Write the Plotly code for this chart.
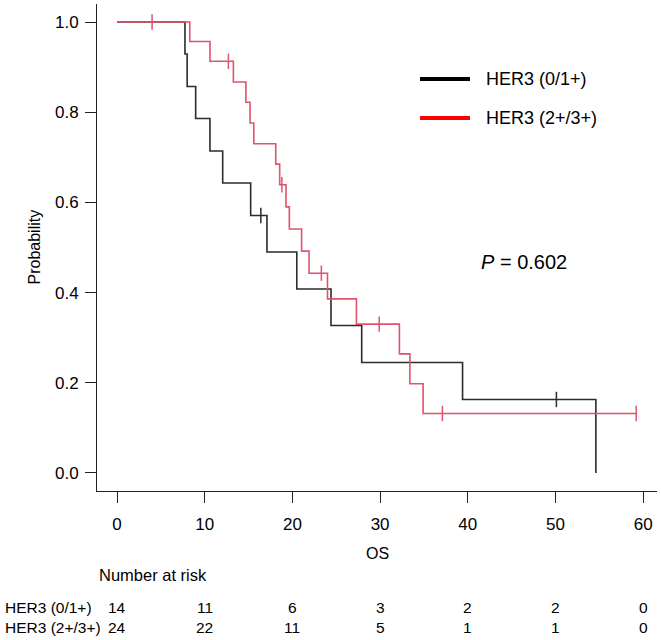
import plotly.graph_objects as go

# ---- data ----
group_names = ["HER3 (0/1+)", "HER3 (2+/3+)"]

black_times = [0, 7.75, 8.0, 8.97, 10.6, 12.05, 15.24, 17.1, 20.5, 24.4, 27.9, 39.4, 54.6]
black_surv = [1.0, 0.929, 0.857, 0.786, 0.714, 0.643, 0.571, 0.490, 0.408, 0.327, 0.245, 0.163, 0.0]
black_censor = [16.4, 50.1]

red_times = [0, 8.3, 10.6, 13.27, 14.7, 15.17, 15.6, 18.1, 18.55, 19.27, 19.65, 21.05, 21.9,
             24.0, 27.3, 32.2, 33.4, 34.9]
red_surv = [1.0, 0.957, 0.913, 0.867, 0.822, 0.776, 0.730, 0.685, 0.639, 0.590, 0.541, 0.492,
            0.443, 0.386, 0.330, 0.264, 0.198, 0.132]
red_censor = [4.0, 12.7, 18.8, 23.3, 29.9, 37.1, 59.2]

risk_times = [0, 10, 20, 30, 40, 50, 60]
risk_black = [14, 11, 6, 3, 2, 2, 0]
risk_red = [24, 22, 11, 5, 1, 1, 0]

x_ticks = [0, 10, 20, 30, 40, 50, 60]
y_ticks = [0.0, 0.2, 0.4, 0.6, 0.8, 1.0]
p_text = "<i>P</i> = 0.602"

# ---- styles ----
BLACK = "#2b2b2b"
RED = "#DF536B"
FONT = "Liberation Sans, Arial, Helvetica, sans-serif"


def surv_at(times, surv, t):
    s = surv[0]
    for ti, si in zip(times, surv):
        if ti <= t:
            s = si
    return s


def extend(times, surv, censor):
    t = list(times)
    s = list(surv)
    if censor and max(censor) > t[-1]:
        t.append(max(censor))
        s.append(s[-1])
    return t, s


fig = go.Figure()

for times, surv, censor, col in [
    (black_times, black_surv, black_censor, BLACK),
    (red_times, red_surv, red_censor, RED),
]:
    t, s = extend(times, surv, censor)
    fig.add_trace(go.Scatter(x=t, y=s, mode="lines", line=dict(color=col, width=1.6, shape="hv"),
                             showlegend=False, hoverinfo="skip"))
    fig.add_trace(go.Scatter(x=censor, y=[surv_at(times, surv, c) for c in censor], mode="markers",
                             marker=dict(symbol="line-ns", size=11, line=dict(color=col, width=1.5)),
                             showlegend=False, hoverinfo="skip"))

W, H = 661, 640
L, R, T, B = 97, 4, 4, 149
pw, ph = W - L - R, H - T - B


def px_x(p):
    return (p - L) / pw


def px_y(p):
    return (H - B - p) / ph


annotations = []
shapes = []

# legend (custom, to match long thick line samples)
for name, col, ypx in [(group_names[0], "black", 79), (group_names[1], "red", 118)]:
    shapes.append(dict(type="line", xref="paper", yref="paper", x0=px_x(420), x1=px_x(470),
                       y0=px_y(ypx), y1=px_y(ypx), line=dict(color=col, width=4)))
    annotations.append(dict(text=name, xref="paper", yref="paper", x=px_x(484), y=px_y(ypx),
                            xanchor="left", yanchor="middle", showarrow=False,
                            font=dict(size=18, color="black", family=FONT)))

# P value
annotations.append(dict(text=p_text, x=46.4, y=0.467, xref="x", yref="y", showarrow=False,
                        xanchor="center", yanchor="middle",
                        font=dict(size=20, color="black", family=FONT)))

# axis titles
annotations.append(dict(text="OS", x=0.5, y=px_y(553), xref="paper", yref="paper", showarrow=False,
                        xanchor="center", yanchor="middle", font=dict(size=16, color="black", family=FONT)))
annotations.append(dict(text="Probability", x=px_x(34), y=0.5, xref="paper", yref="paper", showarrow=False,
                        textangle=-90, xanchor="center", yanchor="middle",
                        font=dict(size=16, color="#000000", family=FONT)))

# number at risk table
annotations.append(dict(text="Number at risk", x=px_x(97), y=px_y(575), xref="paper", yref="paper",
                        showarrow=False, xanchor="left", yanchor="middle",
                        font=dict(size=16.5, color="black", family=FONT)))
for name, counts, ypx in [(group_names[0], risk_black, 607), (group_names[1], risk_red, 627)]:
    annotations.append(dict(text=name, x=px_x(3), y=px_y(ypx), xref="paper", yref="paper",
                            showarrow=False, xanchor="left", yanchor="middle",
                            font=dict(size=15.5, color="black", family=FONT)))
    for t, n in zip(risk_times, counts):
        annotations.append(dict(text=str(n), x=t, y=px_y(ypx), xref="x", yref="paper",
                                showarrow=False, xanchor="center", yanchor="middle",
                                font=dict(size=15.5, color="black", family=FONT)))

fig.update_layout(
    width=W, height=H,
    margin=dict(l=L, r=R, t=T, b=B, pad=0),
    paper_bgcolor="white", plot_bgcolor="white",
    font=dict(family=FONT, size=16, color="black"),
    showlegend=False,
    annotations=annotations,
    shapes=shapes,
    xaxis=dict(range=[-2.28, 61.57], tickvals=x_ticks, ticktext=[str(v) for v in x_ticks],
               showgrid=False, zeroline=False, showline=True, linecolor="#222", linewidth=1,
               ticks="outside", ticklen=11, tickcolor="#222", tickwidth=1,
               ticklabelstandoff=7, tickfont=dict(size=17, family=FONT, color="black")),
    yaxis=dict(range=[-0.04, 1.04], tickvals=y_ticks, ticktext=[f"{v:.1f}" for v in y_ticks],
               showgrid=False, zeroline=False, showline=True, linecolor="#222", linewidth=1,
               ticks="outside", ticklen=11, tickcolor="#222", tickwidth=1,
               ticklabelstandoff=3, tickfont=dict(size=17, family=FONT, color="black")),
)

fig.write_html("out.html", config={"displayModeBar": False},
               post_script="document.body.style.margin='0';document.body.style.padding='0';")
